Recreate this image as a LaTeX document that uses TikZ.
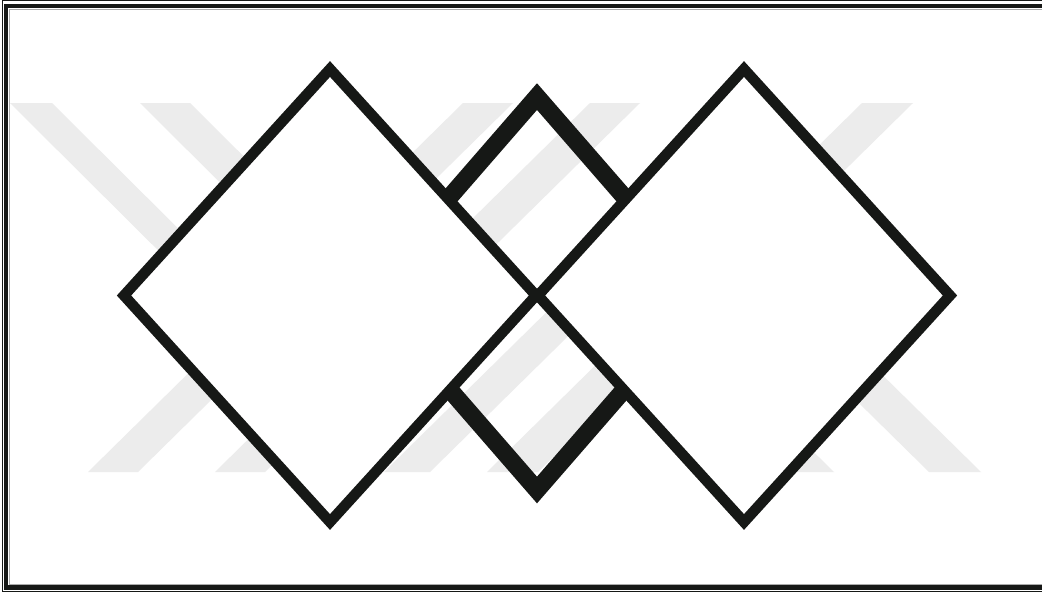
\documentclass[tikz,border=0pt]{standalone}
\definecolor{ink}{RGB}{22,24,22}
\definecolor{wm}{RGB}{236,236,236}
\definecolor{edgegrey}{RGB}{170,170,170}
\begin{document}
\begin{tikzpicture}[x=1pt,y=-1pt,
  band/.style={fill=wm,draw=none},
  bigd/.style={draw=ink,line width=10.6pt,fill=white,line join=miter},
  midd/.style={draw=ink,line width=17.5pt,line join=miter},
  framethin/.style={draw=ink,line width=1.2pt},
  framethick/.style={draw=ink,line width=4.3pt},
  frameshade/.style={draw=edgegrey,line width=1pt}]
\useasboundingbox (0,0) rectangle (1042,592);
\clip (0,0) rectangle (1042,592);
\fill[white] (0,0) rectangle (1042,592);
% watermark bands
\fill[band] (10,103) -- (52,103) -- (240,290) -- (198,290) -- cycle;
\fill[band] (140,103) -- (190,103) -- (378,290) -- (328,290) -- cycle;
\fill[band] (463,103) -- (513,103) -- (138,472) -- (88,472) -- cycle;
\fill[band] (590,103) -- (640,103) -- (265,472) -- (215,472) -- cycle;
\fill[band] (862,103) -- (913,103) -- (538,472) -- (487,472) -- cycle;
\fill[band] (744,290) -- (796,290) -- (981,472) -- (929,472) -- cycle;
\fill[band] (601,290) -- (649,290) -- (834,472) -- (786,472) -- cycle;
\fill[band] (569,290) -- (615,290) -- (430,472) -- (384,472) -- cycle;
% middle diamond (behind)
\coordinate (mt) at (537,96.6);
\coordinate (mr) at (708,293.3);
\coordinate (mb) at (537,490);
\coordinate (ml) at (366,293.3);
\draw[midd] (mt) -- (mr) -- (mb) -- (ml) -- cycle;
% left big diamond
\coordinate (lt) at (330,69);
\coordinate (lr) at (536,295.5);
\coordinate (lb) at (330,522);
\coordinate (ll) at (124,295.5);
\draw[bigd] (lt) -- (lr) -- (lb) -- (ll) -- cycle;
% right big diamond
\coordinate (rt) at (744,69);
\coordinate (rr) at (950,295.5);
\coordinate (rb) at (744,522);
\coordinate (rl) at (538,295.5);
\draw[bigd] (rt) -- (rr) -- (rb) -- (rl) -- cycle;
% frame
\draw[framethin] (2.5,0.7) rectangle (1100,591.3);
\draw[framethick] (6.2,6.2) rectangle (1100,587.6);
\draw[frameshade] (9.0,9.3) rectangle (1100,584.3);
\end{tikzpicture}
\end{document}
